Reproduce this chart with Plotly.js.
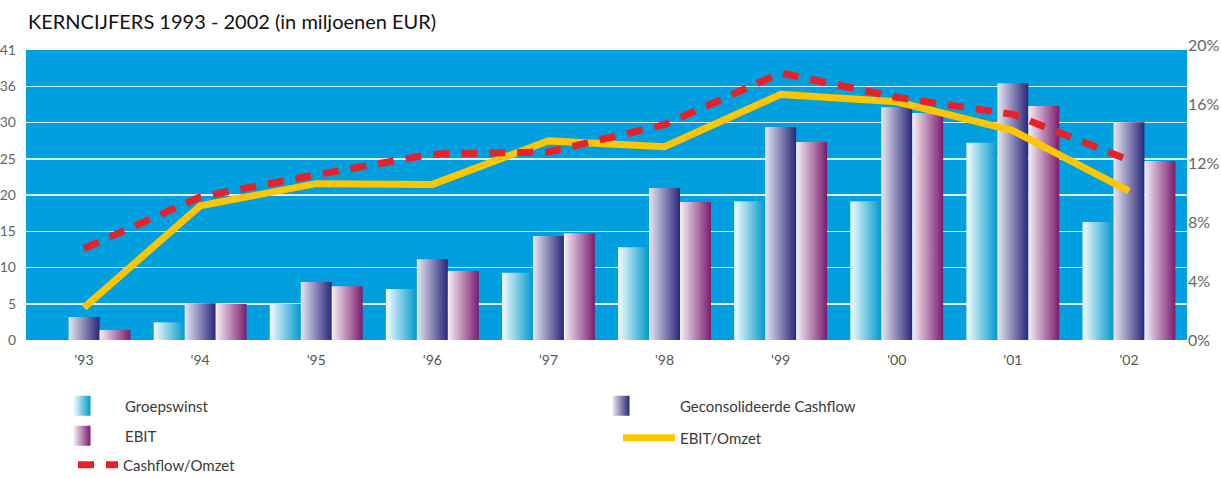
<!DOCTYPE html>
<html><head><meta charset="utf-8">
<script src="https://cdn.plot.ly/plotly-3.0.1.min.js"></script>
<style>html,body{margin:0;padding:0;background:#fff}#chart{width:1221px;height:478px}</style>
</head><body><div id="chart"></div>
<script>
// ---- data ----
const years = ["'93","'94","'95","'96","'97","'98","'99","'00","'01","'02"];
const groepswinst = [null, 2.5, 5.1, 7.2, 9.5, 13.1, 19.6, 19.6, 27.9, 16.7];
const cashflow    = [3.25, 5.2, 8.2, 11.4, 14.7, 21.5, 30.1, 32.9, 36.3, 30.8];
const ebit        = [1.4, 5.1, 7.6, 9.75, 15.1, 19.5, 28.0, 32.1, 33.1, 25.3];
const ebitOmzet     = [2.2, 9.1, 10.6, 10.55, 13.5, 13.1, 16.65, 16.15, 14.2, 10.1];
const cashflowOmzet = [6.2, 9.7, 11.2, 12.6, 12.75, 14.6, 18.1, 16.45, 15.3, 12.2];
const leftMax = 41;
const leftTickText = ['0','5','10','15','20','25','30','36','41'];
const rightTickVals = [0, 4, 8, 12, 16, 20];
const rightTickText = ['0%','4%','8%','12%','16%','20%'];
const seriesNames = ['Groepswinst','Geconsolideerde Cashflow','EBIT','EBIT/Omzet','Cashflow/Omzet'];

const leftTickVals = leftTickText.map((_, i) => i * leftMax / (leftTickText.length - 1));
const FONT = 'Lato, "Open Sans", sans-serif';

const traces = [
  {type:'bar', name:seriesNames[0], x:years, y:groepswinst, marker:{color:'#0099cc', line:{width:0}}, legend:'legend'},
  {type:'bar', name:seriesNames[1], x:years, y:cashflow, marker:{color:'#2a2778', line:{width:0}}, legend:'legend2'},
  {type:'bar', name:seriesNames[2], x:years, y:ebit, marker:{color:'#7b1d70', line:{width:0}}, legend:'legend3'},
  {type:'scatter', mode:'lines', name:seriesNames[3], x:years, y:ebitOmzet, yaxis:'y2',
   line:{color:'#ffc600', width:7}, legend:'legend4'},
  {type:'scatter', mode:'lines', name:seriesNames[4], x:years, y:cashflowOmzet, yaxis:'y2',
   line:{color:'#e8202a', width:7, dash:'16px,12px'}, legend:'legend5'}
];

const H = 295; // plot px height
const legFont = {family:FONT, size:15, color:'#3a3a3a'};
function leg(x, y, w){
  return {x:x, y:y, xref:'paper', yref:'paper', xanchor:'left', yanchor:'middle',
          bgcolor:'rgba(0,0,0,0)', borderwidth:0, font:legFont, itemwidth:w, orientation:'v'};
}
const px2x = px => (px - 26) / 1161;
const px2y = py => (340 - py) / H;

const layout = {
  width:1221, height:478,
  margin:{l:26, r:34, t:45, b:138, pad:0, autoexpand:false},
  paper_bgcolor:'#ffffff', plot_bgcolor:'rgba(0,0,0,0)',
  title:{text:'KERNCIJFERS 1993 - 2002 (in miljoenen EUR)', xref:'container', yref:'container',
         x:28/1221, xanchor:'left', y:1-22/478, yanchor:'middle',
         font:{family:FONT, size:20, color:'#111'}},
  barmode:'group', bargap:0.2, bargroupgap:0,
  showlegend:true,
  xaxis:{type:'category', anchor:'y', showgrid:false, zeroline:false, showline:false, ticks:'',
         ticklabelstandoff:10,
         tickfont:{family:FONT, size:14, color:'#555'}, automargin:false, fixedrange:true},
  yaxis:{range:[0, leftMax], domain:[0, 290/H], tickmode:'array', tickvals:leftTickVals, ticktext:leftTickText,
         showgrid:true, gridcolor:'rgba(230,243,252,0.95)', gridwidth:1.5, zeroline:false, showline:false,
         ticks:'', ticklabelstandoff:9, tickfont:{family:FONT, size:14, color:'#666'}, automargin:false, fixedrange:true},
  yaxis2:{range:[0, 20], domain:[0, 1], anchor:'x', side:'right', tickmode:'array',
          tickvals:rightTickVals, ticktext:rightTickText, showgrid:false, zeroline:false, showline:false,
          ticks:'', tickfont:{family:FONT, size:16, color:'#666'}, automargin:false, fixedrange:true},
  shapes:[{type:'rect', xref:'x domain', yref:'y domain', x0:0, x1:1, y0:0, y1:1,
           fillcolor:'#009fe0', line:{width:0}, layer:'below'}],
  legend:  leg(px2x(39), px2y(406), 76),
  legend2: leg(px2x(562), px2y(406), 108),
  legend3: leg(px2x(39), px2y(436), 76),
  legend4: leg(px2x(618), px2y(438), 52),
  legend5: leg(px2x(73), px2y(465), 40)
};

Plotly.newPlot('chart', traces, layout, {staticPlot:true, displayModeBar:false}).then(gd => {
  const ns = 'http://www.w3.org/2000/svg';
  const svg = gd.querySelector('svg.main-svg');
  let defs = svg.querySelector('defs');
  if (!defs) { defs = document.createElementNS(ns, 'defs'); svg.insertBefore(defs, svg.firstChild); }
  const grads = [['gradG', '#f6fcfe', '#009acc'], ['gradC', '#e8e6f2', '#29267a'], ['gradE', '#f7f0f6', '#7a1b6f']];
  grads.forEach(([id, c0, c1]) => {
    const lg = document.createElementNS(ns, 'linearGradient');
    lg.setAttribute('id', id); lg.setAttribute('x1', '0'); lg.setAttribute('y1', '0');
    lg.setAttribute('x2', '1'); lg.setAttribute('y2', '0');
    [[0, c0], [1, c1]].forEach(([o, c]) => {
      const s = document.createElementNS(ns, 'stop');
      s.setAttribute('offset', o); s.setAttribute('stop-color', c); lg.appendChild(s);
    });
    defs.appendChild(lg);
  });
  gd.querySelectorAll('.barlayer .trace').forEach((t, i) => {
    t.querySelectorAll('path').forEach(p => { p.style.fill = 'url(#' + grads[i][0] + ')'; });
  });
  ['legend', 'legend2', 'legend3'].forEach((lid, i) => {
    const g = gd.querySelector('g.' + lid);
    if (!g) return;
    g.querySelectorAll('.legendpoints path').forEach(p => {
      p.setAttribute('d', 'M8.5,10H-8.5V-10H8.5Z');
      p.style.fill = 'url(#' + grads[i][0] + ')';
    });
  });
});
</script>
</body></html>
